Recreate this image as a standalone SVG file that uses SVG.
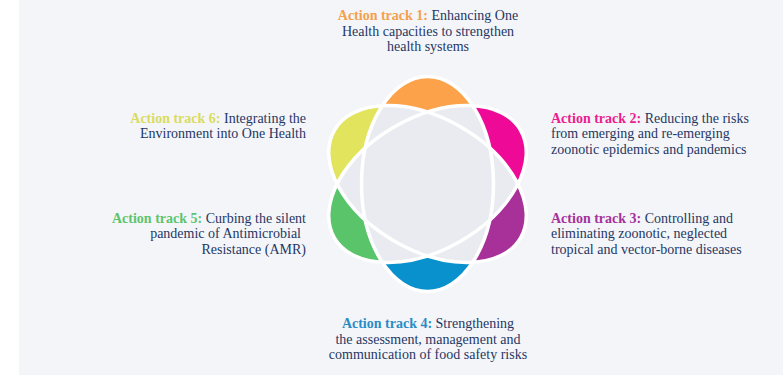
<svg xmlns="http://www.w3.org/2000/svg" width="783" height="375" viewBox="0 0 783 375">
<style>
  .t{font-family:"Liberation Serif","Times New Roman",serif;font-size:14px;fill:#1f3864}
  .b{font-weight:bold}
  .ov{fill:#e9ebf0}
  .ol{fill:none;stroke:#ffffff;stroke-width:3.5}
</style>
<defs>
  <path id="top" d="M -66 0 A 66 107.5 0 0 1 66 0 Z"/>
  <path id="bot" d="M -66 0 A 66 107.5 0 0 0 66 0 Z"/>
  <ellipse id="el" cx="0" cy="0" rx="66" ry="107.5"/>
  <clipPath id="cA"><ellipse cx="0" cy="0" rx="66" ry="107.5" transform="translate(427.5 184)"/></clipPath>
  <clipPath id="cB"><ellipse cx="0" cy="0" rx="66" ry="107.5" transform="translate(427.5 184) rotate(60)"/></clipPath>
  <clipPath id="cC"><ellipse cx="0" cy="0" rx="66" ry="107.5" transform="translate(427.5 184) rotate(120)"/></clipPath>
</defs>
<rect x="0" y="0" width="783" height="375" fill="#ffffff"/>
<rect x="19" y="0" width="764" height="375" fill="#f4f5f9"/>

<g id="track1">
  <use href="#top" transform="translate(427.5 184)" fill="#fca24a"/>
  <text class="t" text-anchor="middle" x="428" y="20"><tspan class="b" fill="#f5a04a">Action track 1:</tspan> Enhancing One</text>
  <text class="t" text-anchor="middle" x="428" y="35.5">Health capacities to strengthen</text>
  <text class="t" text-anchor="middle" x="428" y="51">health systems</text>
</g>
<g id="track2">
  <use href="#top" transform="translate(427.5 184) rotate(60)" fill="#ee0a96"/>
  <text class="t" x="551" y="122.5"><tspan class="b" fill="#ec1c8f">Action track 2:</tspan> Reducing the risks</text>
  <text class="t" x="551" y="138">from emerging and re-emerging</text>
  <text class="t" x="551" y="153.5">zoonotic epidemics and pandemics</text>
</g>
<g id="track3">
  <use href="#top" transform="translate(427.5 184) rotate(120)" fill="#a83199"/>
  <text class="t" x="551" y="222.5"><tspan class="b" fill="#a4329b">Action track 3:</tspan> Controlling and</text>
  <text class="t" x="551" y="238">eliminating zoonotic, neglected</text>
  <text class="t" x="551" y="253.5">tropical and vector-borne diseases</text>
</g>
<g id="track4">
  <use href="#bot" transform="translate(427.5 184)" fill="#0891cd"/>
  <text class="t" text-anchor="middle" x="428" y="328"><tspan class="b" fill="#2a8cc4">Action track 4:</tspan> Strengthening</text>
  <text class="t" text-anchor="middle" x="428" y="343.5">the assessment, management and</text>
  <text class="t" text-anchor="middle" x="428" y="359">communication of food safety risks</text>
</g>
<g id="track5">
  <use href="#bot" transform="translate(427.5 184) rotate(60)" fill="#59c46a"/>
  <text class="t" text-anchor="end" x="306" y="222.5"><tspan class="b" fill="#5cc46c">Action track 5:</tspan> Curbing the silent</text>
  <text class="t" text-anchor="end" x="301" y="238">pandemic of Antimicrobial</text>
  <text class="t" text-anchor="end" x="306" y="253.5">Resistance (AMR)</text>
</g>
<g id="track6">
  <use href="#bot" transform="translate(427.5 184) rotate(120)" fill="#e2e45e"/>
  <text class="t" text-anchor="end" x="306" y="122.5"><tspan class="b" fill="#dadc5e">Action track 6:</tspan> Integrating the</text>
  <text class="t" text-anchor="end" x="306" y="138">Environment into One Health</text>
</g>

<g id="overlaps">
  <g clip-path="url(#cB)"><use href="#el" class="ov" transform="translate(427.5 184)"/></g>
  <g clip-path="url(#cC)"><use href="#el" class="ov" transform="translate(427.5 184)"/></g>
  <g clip-path="url(#cC)"><use href="#el" class="ov" transform="translate(427.5 184) rotate(60)"/></g>
</g>
<g id="connectors">
  <use href="#el" class="ol" transform="translate(427.5 184)"/>
  <use href="#el" class="ol" transform="translate(427.5 184) rotate(60)"/>
  <use href="#el" class="ol" transform="translate(427.5 184) rotate(120)"/>
</g>
</svg>
